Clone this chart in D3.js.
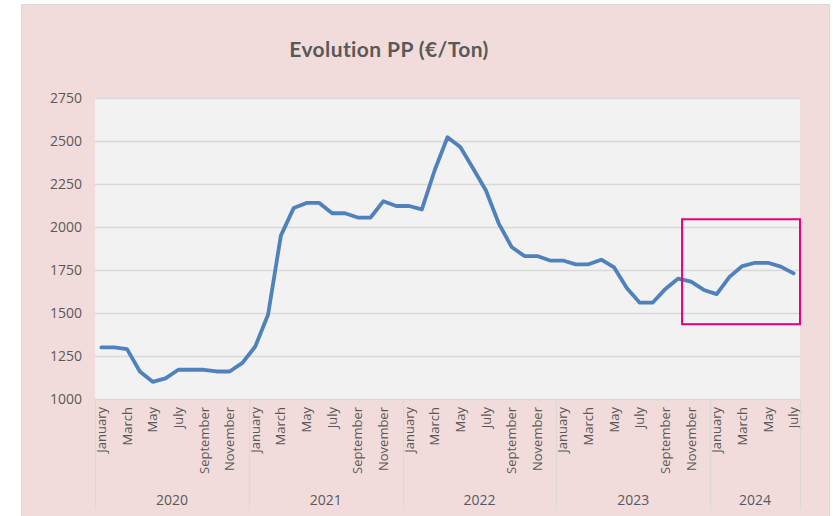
<!DOCTYPE html>
<html>
<head>
<meta charset="utf-8">
<script src="https://cdn.jsdelivr.net/npm/d3@7"></script>
<style>
  body { margin: 0; background: #ffffff; }
  text { font-family: "Open Sans", "Lato", sans-serif; fill: #595959; }
</style>
</head>
<body>
<div id="chart"></div>
<script>
// month labels and years (Jan 2020 .. Jul 2024)
const monthNames = ["January", "February", "March", "April", "May", "June",
  "July", "August", "September", "October", "November", "December"];
const years = [2020, 2021, 2022, 2023, 2024];
const monthsInLastYear = 7;

// PP price, €/Ton, one value per month
const prices2020 = [1300, 1300, 1290, 1160, 1100, 1120, 1170, 1170, 1170, 1160, 1160, 1210];
const prices2021 = [1305, 1490, 1950, 2110, 2140, 2140, 2080, 2080, 2055, 2055, 2150, 2122];
const prices2022 = [2122, 2102, 2330, 2522, 2465, 2340, 2212, 2020, 1884, 1831, 1831, 1805];
const prices2023 = [1805, 1783, 1783, 1810, 1765, 1644, 1560, 1560, 1640, 1700, 1682, 1634];
const prices2024 = [1610, 1710, 1773, 1792, 1792, 1770, 1730];

const yTicks = [1000, 1250, 1500, 1750, 2000, 2250, 2500, 2750];

// highlighted zone (months from left edge, price range)
const highlightFrom = 45.8;
const highlightPrices = [1435, 2045];

const width = 833, height = 516;
const margin = { left: 95, right: 33, top: 98, bottom: 117 };

const allPrices = [].concat(prices2020, prices2021, prices2022, prices2023, prices2024);
const data = [];
years.forEach(function (y, yi) {
  const n = yi === years.length - 1 ? monthsInLastYear : 12;
  for (let m = 0; m < n; m++) {
    data.push({ key: y + "-" + m, year: y, month: m, value: allPrices[data.length] });
  }
});

const svg = d3.select("#chart").append("svg")
  .attr("width", width)
  .attr("height", height);

// outer chart background
svg.append("rect")
  .attr("x", 21.5).attr("y", 4.5)
  .attr("width", 808).attr("height", 520)
  .attr("fill", "#f2dcdb")
  .attr("stroke", "#d9d9d9");

const x = d3.scaleBand()
  .domain(data.map(d => d.key))
  .range([margin.left, width - margin.right])
  .padding(0);

const y = d3.scaleLinear()
  .domain([1000, 2750])
  .range([height - margin.bottom, margin.top]);

// plot area
svg.append("rect")
  .attr("x", x.range()[0]).attr("y", y(2750))
  .attr("width", x.range()[1] - x.range()[0])
  .attr("height", y(1000) - y(2750))
  .attr("fill", "#f2f2f2");

// gridlines
svg.append("g")
  .selectAll("line")
  .data(yTicks)
  .join("line")
  .attr("x1", x.range()[0]).attr("x2", x.range()[1])
  .attr("y1", d => Math.round(y(d)) + 0.5)
  .attr("y2", d => Math.round(y(d)) + 0.5)
  .attr("stroke", "#d9d9d9")
  .attr("stroke-width", 1.3);

// y axis labels
const yAxis = d3.axisLeft(y).tickValues(yTicks).tickFormat(d3.format("d"))
  .tickSize(0).tickPadding(13);
svg.append("g")
  .attr("transform", "translate(" + margin.left + ",0)")
  .call(yAxis)
  .call(g => g.select(".domain").remove())
  .selectAll("text")
  .style("font-family", "'Open Sans', sans-serif")
  .style("font-size", "14px")
  .style("fill", "#595959");

// x axis: month labels (every other month)
const xAxis = d3.axisBottom(x)
  .tickValues(data.filter(d => d.month % 2 === 0).map(d => d.key))
  .tickFormat(k => monthNames[+k.split("-")[1]])
  .tickSize(0);
svg.append("g")
  .attr("transform", "translate(0," + y(1000) + ")")
  .call(xAxis)
  .call(g => g.select(".domain").remove())
  .selectAll("text")
  .attr("transform", "rotate(-90)")
  .attr("text-anchor", "end")
  .attr("x", -8)
  .attr("y", 0)
  .attr("dy", "0.35em")
  .style("font-family", "'Open Sans', sans-serif")
  .style("font-size", "13px")
  .style("fill", "#595959");

// year groups: separators and labels
const sepBottom = 510;
const yearGroups = years.map(function (yr) {
  const months = data.filter(d => d.year === yr);
  const x0 = x(months[0].key);
  const x1 = x(months[months.length - 1].key) + x.bandwidth();
  return { year: yr, x0: x0, x1: x1 };
});

svg.append("g")
  .selectAll("line")
  .data([yearGroups[0].x0].concat(yearGroups.map(g => g.x1)))
  .join("line")
  .attr("x1", d => Math.round(d) + 0.5).attr("x2", d => Math.round(d) + 0.5)
  .attr("y1", y(1000)).attr("y2", sepBottom)
  .attr("stroke", "#d9d9d9")
  .attr("stroke-width", 1.2);

svg.append("g")
  .selectAll("text")
  .data(yearGroups)
  .join("text")
  .attr("x", d => (d.x0 + d.x1) / 2)
  .attr("y", 505)
  .attr("text-anchor", "middle")
  .style("font-size", "14px")
  .text(d => d.year);

// price line
const line = d3.line()
  .x(d => x(d.key) + x.bandwidth() / 2)
  .y(d => y(d.value));

svg.append("path")
  .datum(data)
  .attr("d", line)
  .attr("fill", "none")
  .attr("stroke", "#4f81bd")
  .attr("stroke-width", 3.8)
  .attr("stroke-linejoin", "round")
  .attr("stroke-linecap", "round");

// highlight box
const hx0 = x.range()[0] + x.step() * highlightFrom;
svg.append("rect")
  .attr("x", hx0)
  .attr("y", y(highlightPrices[1]))
  .attr("width", x.range()[1] - hx0)
  .attr("height", y(highlightPrices[0]) - y(highlightPrices[1]))
  .attr("fill", "none")
  .attr("stroke", "#e6007e")
  .attr("stroke-width", 2);

// title
svg.append("text")
  .attr("x", 389)
  .attr("y", 57)
  .attr("text-anchor", "middle")
  .style("font-family", "Lato, sans-serif")
  .style("font-size", "21px")
  .style("font-weight", "bold")
  .style("letter-spacing", "0.4px")
  .style("fill", "#595959")
  .text("Evolution PP (€/Ton)");
</script>
</body>
</html>
